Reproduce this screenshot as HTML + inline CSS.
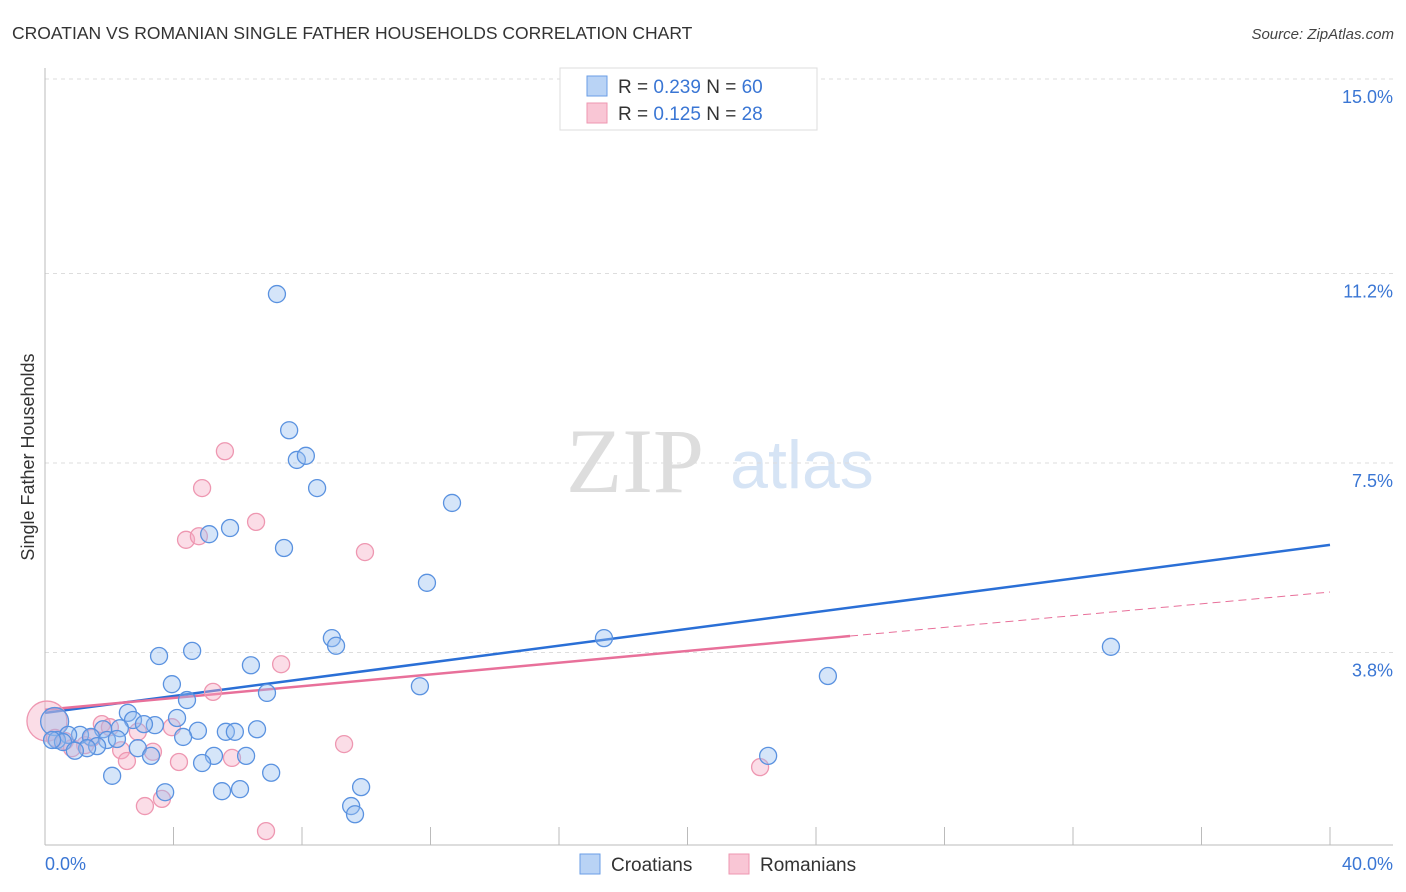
<!DOCTYPE html>
<html><head><meta charset="utf-8"><style>
body{margin:0;background:#fff;font-family:"Liberation Sans",sans-serif;}
svg{display:block}
</style></head><body>
<svg id="chart" width="1406" height="892" viewBox="0 0 1406 892" xmlns="http://www.w3.org/2000/svg">
<text x="12" y="39" font-size="17.5" fill="#333" font-family="Liberation Sans, sans-serif">CROATIAN VS ROMANIAN SINGLE FATHER HOUSEHOLDS CORRELATION CHART</text>
<text x="1394" y="39" font-size="15" fill="#444" font-style="italic" text-anchor="end">Source: ZipAtlas.com</text>
<g>
<text x="635" y="492" font-size="92" fill="#ddd" font-family="Liberation Serif, serif" text-anchor="middle">ZIP</text>
<text x="802" y="488" font-size="68" fill="#d6e4f5" text-anchor="middle">atlas</text>
</g>
<g id="grid"></g>
<g id="axes"></g>
<g id="lines"></g>
<g id="pts"></g>
<text transform="translate(34,457) rotate(-90)" font-size="18" fill="#333" text-anchor="middle">Single Father Households</text>
<g>
<rect x="560" y="68" width="257" height="62" fill="#fff" stroke="#ddd"/>
<rect x="587" y="76" width="20" height="20" fill="#b9d3f5" stroke="#6a9ee6"/>
<rect x="587" y="103" width="20" height="20" fill="#f9c6d5" stroke="#ee97b1"/>
<text x="618" y="93" font-size="19" fill="#333">R = <tspan fill="#3a76d4">0.239</tspan>    N = <tspan fill="#3a76d4">60</tspan></text>
<text x="618" y="120" font-size="19" fill="#333">R =  <tspan fill="#3a76d4">0.125</tspan>    N =  <tspan fill="#3a76d4">28</tspan></text>
</g>
<g>
<rect x="580" y="854" width="20" height="20" fill="#b9d3f5" stroke="#6a9ee6"/>
<text x="611" y="871" font-size="19" fill="#333">Croatians</text>
<rect x="729" y="854" width="20" height="20" fill="#f9c6d5" stroke="#ee97b1"/>
<text x="760" y="871" font-size="19" fill="#333">Romanians</text>
</g>
</svg>
<script>
const yTicks=[3.8,7.5,11.2,15.0];
const yTickLabels=["3.8%","7.5%","11.2%","15.0%"];
const xTickLabels=["0.0%","40.0%"];
const croX=[0.3,7.22,7.60,7.84,8.12,8.47,12.67,5.76,5.11,7.44,11.89,8.93,9.06,17.40,33.18,24.37,3.55,4.58,6.41,3.95,6.91,11.67,4.42,2.58,4.11,2.74,3.42,3.08,2.33,1.81,1.09,1.43,0.72,6.60,4.76,5.63,5.91,4.30,1.93,2.24,0.37,0.56,1.62,1.31,0.93,2.89,3.30,5.26,6.26,4.89,22.51,2.09,7.04,9.84,6.07,5.51,3.74,9.53,9.65,0.22];
const croY=[2.45,10.80,8.14,7.56,7.64,7.01,6.72,6.23,6.11,5.84,5.16,4.08,3.93,4.08,3.91,3.34,3.73,3.83,3.55,3.18,3.01,3.14,2.87,2.62,2.52,2.48,2.38,2.40,2.32,2.30,2.19,2.15,2.19,2.30,2.27,2.25,2.25,2.15,2.09,2.11,2.09,2.05,1.97,1.93,1.88,1.93,1.78,1.78,1.78,1.64,1.78,1.39,1.45,1.17,1.13,1.09,1.07,0.80,0.64,2.09];
const romX=[0.06,5.60,4.89,6.57,4.39,4.79,9.96,7.35,5.23,1.77,2.02,2.89,3.95,9.31,2.37,3.36,5.82,2.55,4.17,22.26,3.64,3.11,6.88,0.31,0.62,1.25,0.84,1.46];
const romY=[2.46,7.73,7.01,6.35,6.00,6.07,5.76,3.57,3.03,2.40,2.34,2.25,2.34,2.01,1.89,1.86,1.74,1.68,1.66,1.56,0.94,0.80,0.31,2.13,2.07,1.99,1.93,2.13];
const croTrend=[2.62,5.90];
const romTrend=[2.68,4.12,4.98];
const romSolidEnd=25.06;
const NS="http://www.w3.org/2000/svg";
const X=v=>45+v*32.125, Y=v=>847-v*51.2;
function mk(parent,tag,attrs){const e=document.createElementNS(NS,tag);for(const k in attrs)e.setAttribute(k,attrs[k]);document.getElementById(parent).appendChild(e);return e;}
yTicks.forEach((t,i)=>{
 const g=mk('grid','line',{x1:45,x2:1393,y1:Y(t),y2:Y(t),stroke:'#ddd','stroke-dasharray':'4,4'});
 
 
 const l=mk('axes','text',{x:1393,y:Y(t)+24,'font-size':18,fill:'#3a76d4','text-anchor':'end'});
 l.textContent=yTickLabels[i];
 
 
});
mk('axes','line',{x1:45,x2:1393,y1:845,y2:845,stroke:'#bbb'});
mk('axes','line',{x1:45,x2:45,y1:68,y2:845,stroke:'#bbb'});
for(let i=1;i<=10;i++){const t=mk('axes','line',{x1:X(i*4),x2:X(i*4),y1:827,y2:845,stroke:'#bbb'});
 
 }
const xl0=mk('axes','text',{x:45,y:870,'font-size':18,fill:'#3a76d4'});xl0.textContent=xTickLabels[0];


const xl1=mk('axes','text',{x:1393,y:870,'font-size':18,fill:'#3a76d4','text-anchor':'end'});xl1.textContent=xTickLabels[1];


romX.forEach((x,i)=>{const c=mk('pts','circle',{cx:X(x),cy:Y(romY[i]),r:i===0?20:8.5,fill:'rgba(245,170,195,0.4)',stroke:'#ee97b1','stroke-width':1.3});
 
 });
croX.forEach((x,i)=>{const c=mk('pts','circle',{cx:X(x),cy:Y(croY[i]),r:i===0?14:8.5,fill:'rgba(150,190,240,0.4)',stroke:'#5a92e0','stroke-width':1.3});
 
 });
const cl=mk('lines','line',{x1:X(0),y1:Y(croTrend[0]),x2:X(40),y2:Y(croTrend[1]),stroke:'#2a6fd6','stroke-width':2.5});


const rl=mk('lines','line',{x1:X(0),y1:Y(romTrend[0]),x2:X(romSolidEnd),y2:Y(romTrend[1]),stroke:'#e8709a','stroke-width':2.5});


const rd=mk('lines','line',{x1:X(romSolidEnd),y1:Y(romTrend[1]),x2:X(40),y2:Y(romTrend[2]),stroke:'#e8709a','stroke-width':1,'stroke-dasharray':'8,5'});


</script>
</body></html>
